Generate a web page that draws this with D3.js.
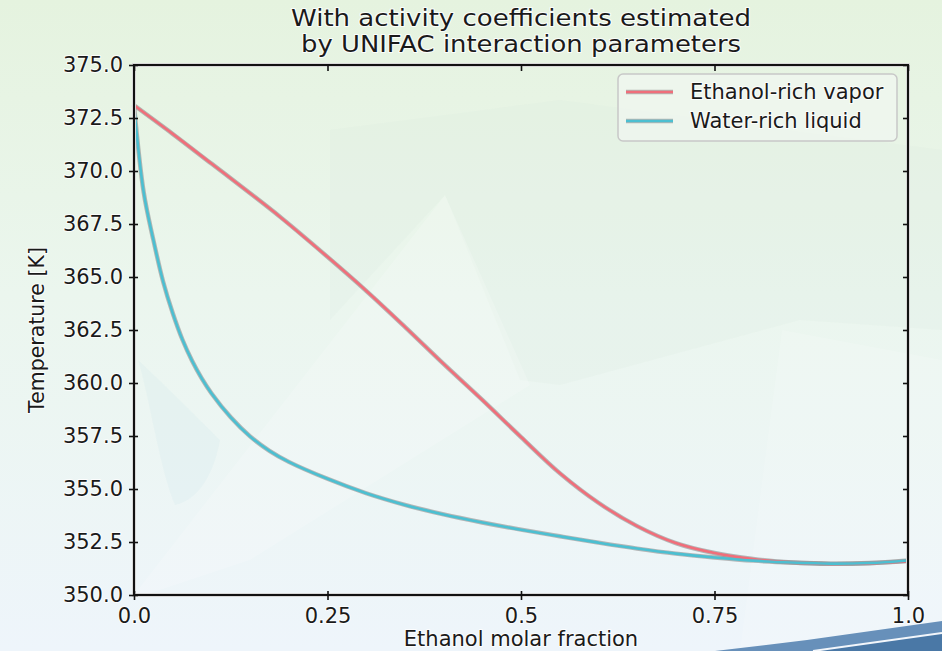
<!DOCTYPE html>
<html>
<head>
<meta charset="utf-8">
<script src="https://cdn.jsdelivr.net/npm/d3@7"></script>
<style>
  body { margin: 0; overflow: hidden; }
  svg text { font-family: "DejaVu Sans", sans-serif; fill: #1a1a1a; }
</style>
</head>
<body>
<svg id="chart" width="942" height="651"></svg>
<script>
// chart data
var titleLines = ["With activity coefficients estimated", "by UNIFAC interaction parameters"]
var titleWidths = [460, 440]
var seriesNames = ["Ethanol-rich vapor", "Water-rich liquid"]
var seriesColors = ["#f06e7a", "#4cbfd1"]

var vaporX = [0, 0.05, 0.1, 0.15, 0.19, 0.25, 0.3, 0.35, 0.4, 0.45, 0.5, 0.55, 0.6, 0.65, 0.7, 0.75, 0.8, 0.85, 0.9, 0.95, 1.0]
var vaporT = [373.1, 371.75, 370.35, 368.95, 367.8, 365.95, 364.35, 362.65, 360.9, 359.2, 357.45, 355.75, 354.35, 353.25, 352.45, 351.98, 351.7, 351.53, 351.47, 351.5, 351.6]

var liquidX = [0, 0.0125, 0.025, 0.0375, 0.05, 0.0625, 0.075, 0.0875, 0.1, 0.125, 0.15, 0.175, 0.2, 0.25, 0.3, 0.35, 0.4, 0.45, 0.5, 0.55, 0.6, 0.65, 0.7, 0.75, 0.8, 0.85, 0.9, 0.95, 1.0]
var liquidT = [373.1, 369.0, 366.75, 364.8, 363.3, 362.05, 361.05, 360.22, 359.52, 358.38, 357.48, 356.8, 356.28, 355.48, 354.8, 354.25, 353.8, 353.42, 353.08, 352.77, 352.47, 352.19, 351.95, 351.77, 351.62, 351.53, 351.48, 351.51, 351.63]

var xTicks = [0, 0.25, 0.5, 0.75, 1.0]
var xTickLabels = ["0.0", "0.25", "0.5", "0.75", "1.0"]
var yTicks = [350, 352.5, 355, 357.5, 360, 362.5, 365, 367.5, 370, 372.5, 375]

var xLabel = "Ethanol molar fraction"
var yLabel = "Temperature [K]"

var svg = d3.select("#chart")
var W = 942, H = 651
var plot = { left: 134, right: 908, top: 65, bottom: 595 }

// ---------- background ----------
var defs = svg.append("defs")
var bg = defs.append("linearGradient").attr("id", "bg")
  .attr("x1", 0).attr("y1", 0).attr("x2", 0).attr("y2", 1)
bg.append("stop").attr("offset", "0%").attr("stop-color", "#e5f3df")
bg.append("stop").attr("offset", "45%").attr("stop-color", "#ebf6ee")
bg.append("stop").attr("offset", "100%").attr("stop-color", "#eef5fb")
svg.append("rect").attr("width", W).attr("height", H).attr("fill", "url(#bg)")

var line = d3.line()
// faint decorative shapes behind the plot
svg.append("path")
  .attr("d", line([[330, 130], [560, 100], [942, 150], [942, 330], [800, 320], [560, 385], [520, 380], [445, 195], [330, 320]]) + "Z")
  .attr("fill", "#d6ebdf").attr("opacity", 0.18)
svg.append("path")
  .attr("d", line([[130, 600], [445, 195], [530, 385], [250, 560]]) + "Z")
  .attr("fill", "#ffffff").attr("opacity", 0.18)
svg.append("path")
  .attr("d", line([[740, 651], [782, 330], [942, 360], [942, 651]]) + "Z")
  .attr("fill", "#ffffff").attr("opacity", 0.15)
svg.append("path")
  .attr("d", "M138,360 C150,400 160,470 175,505 C200,500 215,470 220,440 C200,420 170,390 138,360 Z")
  .attr("fill", "#cfe4ec").attr("opacity", 0.2)

// blue swoosh in the lower right corner
svg.append("path")
  .attr("d", line([[715, 651], [807, 640], [942, 621], [942, 651]]) + "Z")
  .attr("fill", "#6790ba")
svg.append("path")
  .attr("d", line([[813, 651], [942, 633], [942, 651]]) + "Z")
  .attr("fill", "#4a78a6")
svg.append("path")
  .attr("d", line([[813, 651], [942, 633]]))
  .attr("stroke", "#f2f6fb").attr("stroke-width", 2).attr("fill", "none")

// ---------- scales ----------
var x = d3.scaleLinear().domain([0, 1]).range([plot.left, plot.right])
var y = d3.scaleLinear().domain([350, 375]).range([plot.bottom, plot.top])

var textHalo = function (sel) {
  sel.style("paint-order", "stroke").style("stroke", "rgba(255,255,255,0.85)")
    .style("stroke-width", "2px").style("stroke-linejoin", "round")
}

// ---------- curves ----------
var series = [
  { name: seriesNames[0], color: seriesColors[0], pts: d3.zip(vaporX, vaporT) },
  { name: seriesNames[1], color: seriesColors[1], pts: d3.zip(liquidX, liquidT) }
]
var curve = d3.line()
  .x(function (d) { return x(d[0]) })
  .y(function (d) { return y(d[1]) })
  .curve(d3.curveCatmullRom.alpha(0.5))

var gLines = svg.append("g")
gLines.selectAll("path.halo").data(series).enter().append("path")
  .attr("class", "halo")
  .attr("d", function (d) { return curve(d.pts) })
  .attr("fill", "none").attr("stroke", "#8c8c8c").attr("stroke-opacity", 0.6)
  .attr("stroke-width", 4.4)
gLines.selectAll("path.main").data(series).enter().append("path")
  .attr("class", "main")
  .attr("d", function (d) { return curve(d.pts) })
  .attr("fill", "none").attr("stroke", function (d) { return d.color })
  .attr("stroke-width", 2.6)

// ---------- frame and ticks ----------
var frame = svg.append("g")
frame.append("rect")
  .attr("x", plot.left).attr("y", plot.top)
  .attr("width", plot.right - plot.left).attr("height", plot.bottom - plot.top)
  .attr("fill", "none").attr("stroke", "#d8d8d8").attr("stroke-width", 4)
frame.append("rect")
  .attr("x", plot.left).attr("y", plot.top)
  .attr("width", plot.right - plot.left).attr("height", plot.bottom - plot.top)
  .attr("fill", "none").attr("stroke", "#111").attr("stroke-width", 2)

var axisLeft = d3.axisLeft(y).tickValues(yTicks).tickFormat(d3.format(".1f")).tickSize(5).tickPadding(6)
var gy = svg.append("g").attr("transform", "translate(" + plot.left + ",0)").call(axisLeft)
var axisBottom = d3.axisBottom(x).tickValues(xTicks)
  .tickFormat(function (d, i) { return xTickLabels[i] }).tickSize(5).tickPadding(8)
var gx = svg.append("g").attr("transform", "translate(0," + plot.bottom + ")").call(axisBottom)

// inward tick halves on every side
var gRight = svg.append("g").attr("transform", "translate(" + plot.right + ",0)")
  .call(d3.axisLeft(y).tickValues(yTicks).tickSize(5).tickFormat(""))
var gTop = svg.append("g").attr("transform", "translate(0," + plot.top + ")")
  .call(d3.axisBottom(x).tickValues(xTicks).tickSize(6).tickFormat(""))
var gLeftIn = svg.append("g").attr("transform", "translate(" + plot.left + ",0)")
  .call(d3.axisRight(y).tickValues(yTicks).tickSize(4).tickFormat(""))
var gBottomIn = svg.append("g").attr("transform", "translate(0," + plot.bottom + ")")
  .call(d3.axisTop(x).tickValues(xTicks).tickSize(4).tickFormat(""))

;[gy, gx, gRight, gTop, gLeftIn, gBottomIn].forEach(function (g) {
  g.select(".domain").remove()
  g.selectAll(".tick line").attr("stroke", "#111").attr("stroke-width", 1.6)
  g.selectAll(".tick text").style("font-size", "21px")
    .style("font-family", "'DejaVu Sans', sans-serif").attr("fill", "#1a1a1a").call(textHalo)
})

// ---------- labels ----------
svg.append("g").selectAll("text").data(titleLines).enter().append("text")
  .attr("x", (plot.left + plot.right) / 2)
  .attr("y", function (d, i) { return 26 + i * 26 })
  .attr("text-anchor", "middle")
  .attr("textLength", function (d, i) { return titleWidths[i] })
  .attr("lengthAdjust", "spacingAndGlyphs")
  .style("font-size", "22.5px")
  .text(function (d) { return d })
  .call(textHalo)

svg.append("text")
  .attr("x", (plot.left + plot.right) / 2).attr("y", 646)
  .attr("text-anchor", "middle").style("font-size", "21px")
  .text(xLabel).call(textHalo)

svg.append("text")
  .attr("transform", "translate(44," + (plot.top + plot.bottom) / 2 + ") rotate(-90)")
  .attr("text-anchor", "middle").style("font-size", "20.5px")
  .text(yLabel).call(textHalo)

// ---------- legend ----------
var legend = svg.append("g").attr("transform", "translate(618,74)")
legend.append("rect")
  .attr("width", 279).attr("height", 67).attr("rx", 5)
  .attr("fill", "#eef6ee").attr("fill-opacity", 0.85)
  .attr("stroke", "#c8c8c8").attr("stroke-width", 1.5)
var items = legend.selectAll("g.item").data(series).enter().append("g")
  .attr("class", "item")
  .attr("transform", function (d, i) { return "translate(0," + (18 + i * 29) + ")" })
items.append("line").attr("x1", 8).attr("x2", 55)
  .attr("stroke", "#8c8c8c").attr("stroke-opacity", 0.6).attr("stroke-width", 4.4)
items.append("line").attr("x1", 8).attr("x2", 55)
  .attr("stroke", function (d) { return d.color }).attr("stroke-width", 2.6)
items.append("text").attr("x", 72).attr("y", 7)
  .style("font-size", "21px")
  .text(function (d) { return d.name })
  .call(textHalo)
</script>
</body>
</html>
